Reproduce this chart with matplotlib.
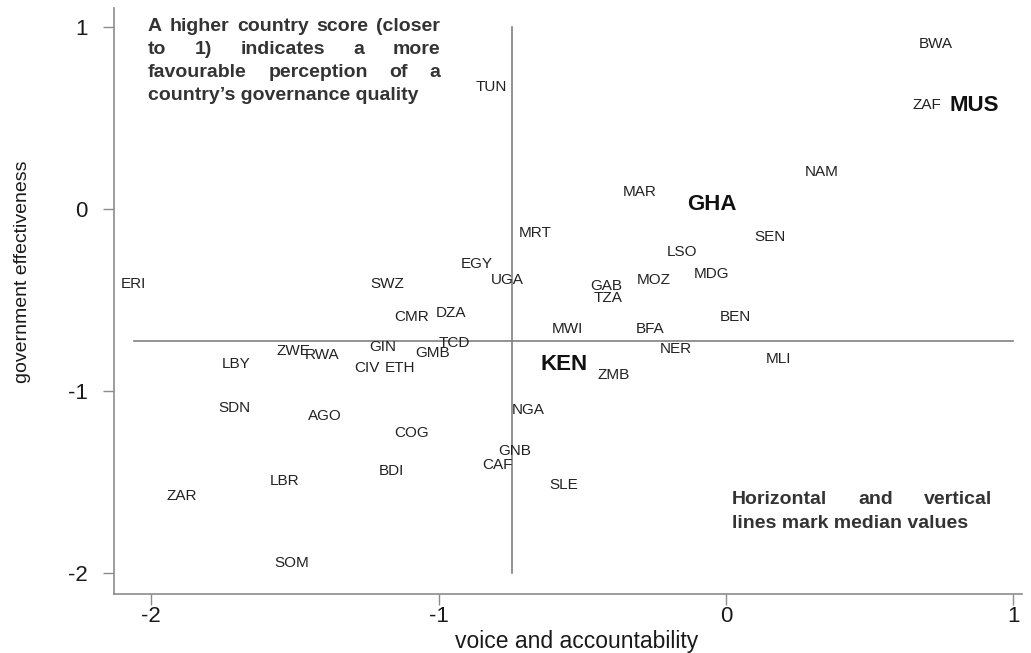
"""
Governance scatter: government effectiveness vs voice and accountability,
African countries labelled by ISO code, median lines drawn across.
"""

import matplotlib
matplotlib.use("Agg")
import matplotlib.pyplot as plt

# ─────────────────────────────────────────────
#  Data
# ─────────────────────────────────────────────

codes = [
    "TUN", "EGY", "UGA", "ERI", "SWZ", "CMR", "DZA", "BWA", "ZAF", "MUS",
    "NAM", "MAR", "GHA", "MRT", "SEN", "LSO", "MDG", "MOZ", "GAB", "TZA",
    "BEN", "MWI", "BFA", "NER", "MLI", "KEN", "ZMB", "NGA", "GNB", "CAF",
    "SLE", "ZWE", "RWA", "LBY", "GIN", "CIV", "ETH", "GMB", "TCD", "SDN",
    "AGO", "COG", "BDI", "LBR", "ZAR", "SOM",
]
voice = [
    -0.818, -0.867, -0.762, -2.061, -1.180, -1.093, -0.957, 0.731, 0.700, 0.863,
    0.334, -0.299, -0.049, -0.665, 0.153, -0.153, -0.049, -0.251, -0.418, -0.411,
    0.031, -0.553, -0.265, -0.174, 0.181, -0.564, -0.390, -0.689, -0.734, -0.794,
    -0.564, -1.504, -1.406, -1.706, -1.194, -1.250, -1.135, -1.023, -0.947, -1.712,
    -1.396, -1.093, -1.163, -1.538, -1.893, -1.511,
]
gov_eff = [
    0.681, -0.291, -0.379, -0.406, -0.406, -0.582, -0.560, 0.912, 0.582, 0.582,
    0.214, 0.104, 0.038, -0.126, -0.148, -0.225, -0.351, -0.379, -0.417, -0.478,
    -0.582, -0.648, -0.653, -0.763, -0.813, -0.840, -0.901, -1.093, -1.318, -1.395,
    -1.505, -0.769, -0.791, -0.840, -0.747, -0.862, -0.862, -0.780, -0.725, -1.082,
    -1.126, -1.219, -1.428, -1.483, -1.565, -1.938,
]
highlight = ["GHA", "KEN", "MUS"]

median_voice = -0.746
median_gov = -0.723

note_top = [
    "A higher country score (closer",
    "to 1) indicates a more",
    "favourable perception of a",
    "country\u2019s governance quality",
]
note_bottom = [
    "Horizontal and vertical",
    "lines mark median values",
]

FONT = ["Liberation Sans", "DejaVu Sans"]
W, H = 1031, 653


# ─────────────────────────────────────────────
#  Helpers
# ─────────────────────────────────────────────

def justified_block(fig, lines, x0, x1, y_first, spacing, size, color):
    """Draw a fully justified text block; pixel coords measured from top-left."""
    renderer = fig.canvas.get_renderer()
    for i, line in enumerate(lines):
        yb = 1 - (y_first + i * spacing) / H
        words = line.split()
        if i == len(lines) - 1 or len(words) == 1:
            fig.text(x0 / W, yb, line, ha="left", va="baseline", fontsize=size,
                     fontweight="bold", color=color, family=FONT)
            continue
        objs = [fig.text(0, yb, w, ha="left", va="baseline", fontsize=size,
                         fontweight="bold", color=color, family=FONT) for w in words]
        widths = [t.get_window_extent(renderer).width for t in objs]
        gap = (x1 - x0 - sum(widths)) / (len(words) - 1)
        x = x0
        for t, w in zip(objs, widths):
            t.set_x(x / W)
            x += w + gap


# ─────────────────────────────────────────────
#  Figure
# ─────────────────────────────────────────────

fig = plt.figure(figsize=(W / 100, H / 100), dpi=100)
ax = fig.add_axes([114 / W, 59 / H, 908 / W, 586 / H])

ax.set_xlim(-2.130, 1.030)
ax.set_ylim(-2.114, 1.104)

for side in ("top", "right"):
    ax.spines[side].set_visible(False)
for side in ("left", "bottom"):
    ax.spines[side].set_color("#8c8c8c")
    ax.spines[side].set_linewidth(1.2)

ax.set_xticks([-2, -1, 0, 1])
ax.set_yticks([-2, -1, 0, 1])
ax.set_xticklabels(["-2", "-1", "0", "1"], family=FONT)
ax.set_yticklabels(["-2", "-1", "0", "1"], family=FONT)
ax.tick_params(axis="both", direction="out", length=8, width=1.0,
               color="#8c8c8c", labelsize=16, labelcolor="#1a1a1a")
ax.tick_params(axis="x", pad=1)
ax.tick_params(axis="y", pad=11)

# median lines
ax.plot([median_voice, median_voice], [-2.0, 1.0], color="#808080", lw=1.2, zorder=1)
ax.plot([-2.06, 1.0], [median_gov, median_gov], color="#808080", lw=1.2, zorder=1)

for code, x, y in zip(codes, voice, gov_eff):
    big = code in highlight
    ax.text(x, y, code, ha="center", va="center_baseline",
            fontsize=16 if big else 11,
            fontweight="bold" if big else "normal",
            color="#111111" if big else "#222222", family=FONT, zorder=3)

ax.set_xlabel("voice and accountability", fontsize=16.5, family=FONT, color="#1a1a1a")
ax.xaxis.set_label_coords((577 - 114) / 908, (594 - 630) / 586)
fig.text(23 / W, 1 - 272 / H, "government effectiveness", rotation=90,
         ha="center", va="center", fontsize=14, family=FONT, color="#1a1a1a")

justified_block(fig, note_top, 148, 440, 31, 23, 14, "#333333")
justified_block(fig, note_bottom, 732, 992, 504, 24, 14, "#333333")

fig.savefig("out.png", dpi=100)
plt.close(fig)
